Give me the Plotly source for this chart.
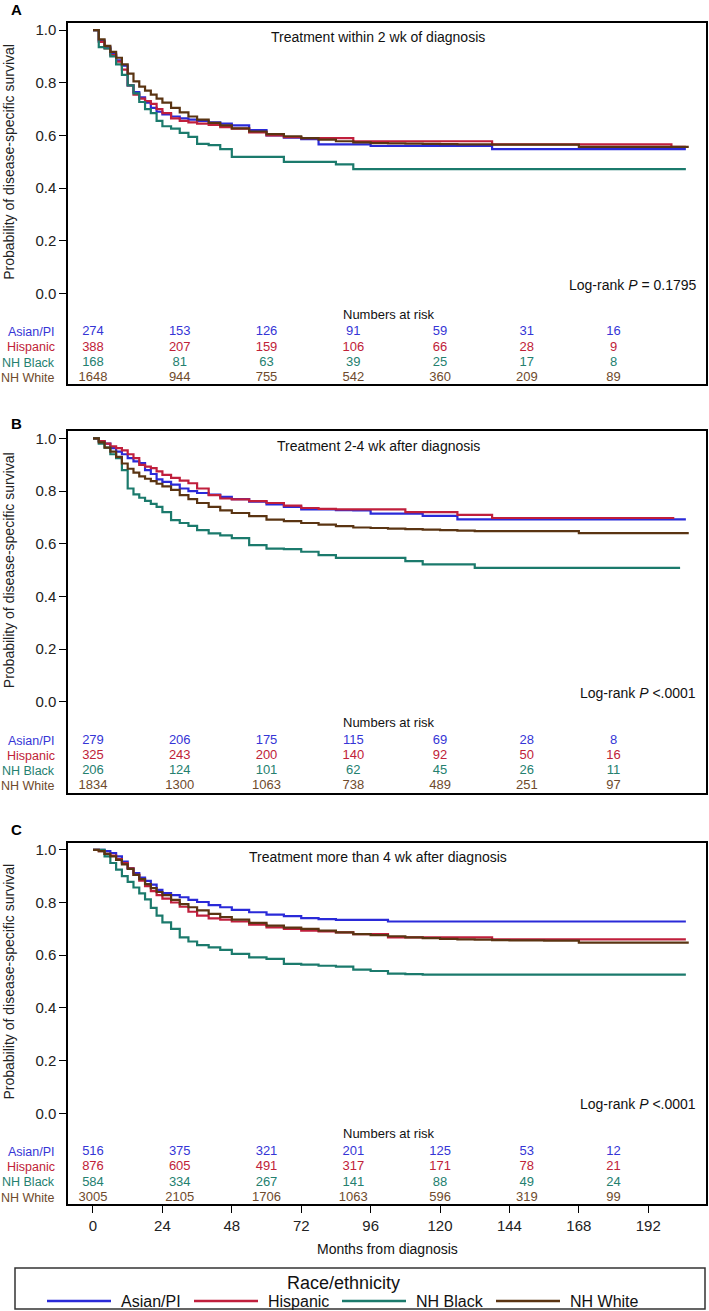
import plotly.graph_objects as go

W, H = 709, 1311
FONT = "Liberation Sans, Arial, sans-serif"

GROUPS = ["Asian/PI", "Hispanic", "NH Black", "NH White"]
LINE_COLORS = ["#2a2ad8", "#c01f3c", "#1b7a6c", "#5a3412"]
TEXT_COLORS = ["#3535d6", "#c02238", "#24806f", "#6e4a2c"]

PANEL_LETTERS = ["A", "B", "C"]
PANEL_TITLES = ["Treatment within 2 wk of diagnosis",
                "Treatment 2-4 wk after diagnosis",
                "Treatment more than 4 wk after diagnosis"]
LOGRANK = ["Log-rank <i>P</i> = 0.1795",
           "Log-rank <i>P</i> &lt;.0001",
           "Log-rank <i>P</i> &lt;.0001"]

MONTHS = [0, 2, 4, 6, 8, 10, 12, 14, 16, 18, 20, 22, 24, 27, 30, 33, 36, 40, 44, 48,
          54, 60, 66, 72, 78, 84, 90, 96, 102, 108, 114, 120, 126, 132, 138, 144,
          156, 168, 180, 192, 200]

# Panel A survival
A_ASIAN = [1.0, 0.96, 0.935, 0.91, 0.885, 0.865, 0.79, 0.765, 0.745, 0.725, 0.705, 0.69, 0.68,
           0.672, 0.665, 0.66, 0.655, 0.65, 0.645, 0.638,
           0.62, 0.60, 0.592, 0.586, 0.566, 0.566, 0.566, 0.56,
           0.56, 0.56, 0.56, 0.56, 0.56, 0.56, 0.548, 0.548,
           0.548, 0.548, 0.548, 0.548, 0.548]
A_HISP = [1.0, 0.955, 0.93, 0.905, 0.88, 0.85, 0.79, 0.755, 0.74, 0.73, 0.72, 0.70, 0.685,
          0.665, 0.655, 0.65, 0.645, 0.64, 0.632, 0.626,
          0.612, 0.60, 0.594, 0.59, 0.59, 0.59, 0.578, 0.578,
          0.578, 0.578, 0.578, 0.578, 0.578, 0.578, 0.566, 0.566,
          0.566, 0.566, 0.566, 0.566, 0.557]
A_BLACK = [1.0, 0.935, 0.93, 0.90, 0.87, 0.83, 0.79, 0.76, 0.727, 0.70, 0.685, 0.655, 0.635,
           0.626, 0.61, 0.595, 0.568, 0.563, 0.548, 0.519,
           0.519, 0.519, 0.50, 0.50, 0.50, 0.49, 0.472, 0.472,
           0.472, 0.472, 0.472, 0.472, 0.472, 0.472, 0.472, 0.472,
           0.472, 0.472, 0.472, 0.472, 0.472]
A_WHITE = [1.0, 0.965, 0.94, 0.917, 0.895, 0.87, 0.835, 0.805, 0.785, 0.77, 0.755, 0.74, 0.725,
           0.705, 0.688, 0.672, 0.66, 0.648, 0.638, 0.627,
           0.615, 0.605, 0.597, 0.59, 0.584, 0.578, 0.574, 0.571,
           0.57, 0.569, 0.568, 0.567, 0.566, 0.566, 0.565, 0.565,
           0.565, 0.557, 0.557, 0.557, 0.557]

# Panel B survival
B_ASIAN = [1.0, 0.99, 0.98, 0.963, 0.95, 0.94, 0.925, 0.913, 0.906, 0.88, 0.865, 0.845, 0.835,
           0.825, 0.81, 0.80, 0.793, 0.787, 0.778, 0.77,
           0.76, 0.75, 0.74, 0.731, 0.731, 0.728, 0.727, 0.715,
           0.715, 0.715, 0.706, 0.706, 0.693, 0.693, 0.693, 0.693,
           0.693, 0.693, 0.693, 0.693, 0.693]
B_HISP = [1.0, 0.99, 0.98, 0.97, 0.963, 0.955, 0.94, 0.925, 0.90, 0.893, 0.887, 0.875, 0.862,
          0.85, 0.84, 0.83, 0.81, 0.785, 0.772, 0.769,
          0.762, 0.755, 0.745, 0.736, 0.733, 0.731, 0.731, 0.731,
          0.731, 0.72, 0.72, 0.72, 0.71, 0.71, 0.698, 0.698,
          0.698, 0.698, 0.698, 0.698, 0.698]
B_BLACK = [1.0, 0.98, 0.965, 0.94, 0.925, 0.88, 0.81, 0.788, 0.775, 0.763, 0.752, 0.74, 0.72,
           0.69, 0.679, 0.668, 0.652, 0.64, 0.632, 0.622,
           0.595, 0.582, 0.58, 0.57, 0.557, 0.547, 0.547, 0.547,
           0.547, 0.534, 0.522, 0.522, 0.522, 0.509, 0.509, 0.509,
           0.509, 0.509, 0.509, 0.509, 0.509]
B_WHITE = [1.0, 0.985, 0.965, 0.95, 0.93, 0.905, 0.885, 0.87, 0.856, 0.847, 0.838, 0.828, 0.818,
           0.805, 0.785, 0.77, 0.755, 0.74, 0.727, 0.717,
           0.705, 0.692, 0.686, 0.679, 0.673, 0.667, 0.662, 0.66,
           0.658, 0.656, 0.654, 0.652, 0.65, 0.648, 0.648, 0.648,
           0.648, 0.641, 0.641, 0.641, 0.641]

# Panel C survival
C_ASIAN = [1.0, 1.0, 0.995, 0.988, 0.975, 0.955, 0.93, 0.912, 0.895, 0.882, 0.868, 0.848, 0.836,
           0.828, 0.82, 0.81, 0.802, 0.79, 0.782, 0.772,
           0.763, 0.754, 0.748, 0.741, 0.737, 0.734, 0.734, 0.734,
           0.728, 0.728, 0.728, 0.728, 0.728, 0.728, 0.728, 0.728,
           0.728, 0.728, 0.728, 0.728, 0.728]
C_HISP = [1.0, 0.995, 0.985, 0.978, 0.965, 0.95, 0.93, 0.905, 0.883, 0.862, 0.843, 0.828, 0.815,
          0.80, 0.784, 0.765, 0.75, 0.74, 0.735, 0.728,
          0.716, 0.706, 0.70, 0.693, 0.69, 0.687, 0.68, 0.68,
          0.668, 0.668, 0.668, 0.668, 0.668, 0.668, 0.66, 0.66,
          0.66, 0.66, 0.66, 0.66, 0.66]
C_BLACK = [1.0, 1.0, 0.975, 0.95, 0.925, 0.90, 0.878, 0.857, 0.835, 0.812, 0.78, 0.75, 0.725,
           0.70, 0.668, 0.652, 0.638, 0.63, 0.62, 0.605,
           0.592, 0.586, 0.567, 0.564, 0.56, 0.557, 0.545, 0.54,
           0.53, 0.528, 0.526, 0.526, 0.526, 0.526, 0.526, 0.526,
           0.526, 0.526, 0.526, 0.526, 0.526]
C_WHITE = [1.0, 0.995, 0.985, 0.975, 0.962, 0.945, 0.928, 0.905, 0.889, 0.87, 0.855, 0.84, 0.828,
           0.81, 0.794, 0.782, 0.77, 0.757, 0.745, 0.735,
           0.723, 0.712, 0.705, 0.70, 0.693, 0.687, 0.68, 0.676,
           0.672, 0.668, 0.665, 0.662, 0.66, 0.659, 0.657, 0.656,
           0.655, 0.648, 0.648, 0.648, 0.648]

# last follow-up month of each curve
END_A = [205, 205, 205, 206]
END_B = [205, 201, 203, 206]
END_C = [205, 205, 205, 206]

# Numbers at risk
RISK_MONTHS = [0, 30, 60, 90, 120, 150, 180]
RISK_A = [[274, 153, 126, 91, 59, 31, 16],
          [388, 207, 159, 106, 66, 28, 9],
          [168, 81, 63, 39, 25, 17, 8],
          [1648, 944, 755, 542, 360, 209, 89]]
RISK_B = [[279, 206, 175, 115, 69, 28, 8],
          [325, 243, 200, 140, 92, 50, 16],
          [206, 124, 101, 62, 45, 26, 11],
          [1834, 1300, 1063, 738, 489, 251, 97]]
RISK_C = [[516, 375, 321, 201, 125, 53, 12],
          [876, 605, 491, 317, 171, 78, 21],
          [584, 334, 267, 141, 88, 49, 24],
          [3005, 2105, 1706, 1063, 596, 319, 99]]

X_TICKS = [0, 24, 48, 72, 96, 120, 144, 168, 192]
Y_TICKS = [0.0, 0.2, 0.4, 0.6, 0.8, 1.0]

PANELS = [
    dict(surv=[A_ASIAN, A_HISP, A_BLACK, A_WHITE], end=END_A, risk=RISK_A),
    dict(surv=[B_ASIAN, B_HISP, B_BLACK, B_WHITE], end=END_B, risk=RISK_B),
    dict(surv=[C_ASIAN, C_HISP, C_BLACK, C_WHITE], end=END_C, risk=RISK_C),
]

# ---------------- layout geometry (pixels) ----------------
def py(p):
    return 1 - p / H

def px(p):
    return p / W

FRAME_TOP = [21, 430, 842]
FRAME_H = 362
X_DOMAIN = [px(68), px(706)]
X_RANGE = [-8.64, 211.96]
Y_RANGE = [-0.345, 1.027]
ROW_Y = [-0.147, -0.204, -0.262, -0.32]
HEAD_Y = -0.078
LETTER_Y = [8, 422, 829]

fig = go.Figure()
annotations = []
shapes = []
layout = {}

for i, panel in enumerate(PANELS):
    sfx = "" if i == 0 else str(i + 1)
    xa, ya = "x" + sfx, "y" + sfx
    for g in range(4):
        xs = MONTHS + [panel["end"][g]]
        ys = panel["surv"][g] + [panel["surv"][g][-1]]
        fig.add_trace(go.Scatter(
            x=xs, y=ys, mode="lines", name=GROUPS[g],
            line=dict(color=LINE_COLORS[g], width=2.2, shape="hv"),
            xaxis=xa, yaxis=ya, showlegend=False, hoverinfo="skip"))
    for g in range(4):
        fig.add_trace(go.Scatter(
            x=RISK_MONTHS, y=[ROW_Y[g]] * len(RISK_MONTHS), mode="text",
            text=[str(v) for v in panel["risk"][g]],
            textfont=dict(color=TEXT_COLORS[g], size=13, family=FONT),
            textposition="middle center",
            xaxis=xa, yaxis=ya, showlegend=False, hoverinfo="skip"))
        annotations.append(dict(
            text=GROUPS[g], xref="paper", x=px(57), xanchor="right",
            yref=ya, y=ROW_Y[g], yanchor="middle", showarrow=False,
            font=dict(color=TEXT_COLORS[g], size=12.5, family=FONT)))
    top = FRAME_TOP[i]
    dom = [py(top + FRAME_H), py(top)]
    last = (i == 2)
    layout["xaxis" + sfx] = dict(
        domain=X_DOMAIN, range=X_RANGE, anchor=ya,
        showline=True, mirror=True, linecolor="black", linewidth=1.5,
        showgrid=False, zeroline=False,
        ticks="outside" if last else "", ticklen=7, tickwidth=1.2, tickcolor="black",
        tickvals=X_TICKS, showticklabels=last,
        tickfont=dict(size=15, family=FONT, color="#222"))
    layout["yaxis" + sfx] = dict(
        domain=dom, range=Y_RANGE, anchor=xa,
        showline=True, mirror=True, linecolor="black", linewidth=1.5,
        showgrid=False, zeroline=False,
        ticks="outside", ticklen=7, tickwidth=1.2, tickcolor="black",
        tickvals=Y_TICKS, ticktext=["%.1f" % v for v in Y_TICKS],
        tickfont=dict(size=15, family=FONT, color="#222"))
    xd = xa + " domain"
    annotations += [
        dict(text=PANEL_TITLES[i], xref=xd, x=(378 - 68) / 638, xanchor="center",
             yref=ya, y=0.973, yanchor="middle", showarrow=False,
             font=dict(size=14, family=FONT, color="#111")),
        dict(text=LOGRANK[i], xref=xd, x=(698 - 68) / 638, xanchor="right",
             yref=ya, y=0.034, yanchor="middle", showarrow=False,
             font=dict(size=14, family=FONT, color="#111")),
        dict(text="Numbers at risk", xref=xd, x=(389 - 68) / 638, xanchor="center",
             yref=ya, y=HEAD_Y, yanchor="middle", showarrow=False,
             font=dict(size=13, family=FONT, color="#111")),
        dict(text="Probability of disease-specific survival", xref="paper", x=px(9),
             xanchor="center", yref=ya, y=0.5, yanchor="middle", textangle=-90,
             showarrow=False, font=dict(size=14, family=FONT, color="#222")),
        dict(text="<b>" + PANEL_LETTERS[i] + "</b>", xref="paper", x=px(16),
             xanchor="center", yref="paper", y=py(LETTER_Y[i]), yanchor="middle",
             showarrow=False, font=dict(size=15, family=FONT, color="black")),
    ]

# x-axis title
annotations.append(dict(text="Months from diagnosis", xref="paper", x=px(387),
                        xanchor="center", yref="paper", y=py(1249), yanchor="middle",
                        showarrow=False, font=dict(size=14, family=FONT, color="#111")))

# legend (drawn box)
shapes.append(dict(type="rect", xref="paper", yref="paper",
                   x0=px(15), x1=px(705), y0=py(1309), y1=py(1268),
                   line=dict(color="#333", width=1.5)))
annotations.append(dict(text="Race/ethnicity", xref="paper", x=px(343), xanchor="center",
                        yref="paper", y=py(1283), yanchor="middle", showarrow=False,
                        font=dict(size=18, family=FONT, color="#111")))
LEG_LINE_X = [47, 194, 342, 496]
for g in range(4):
    x0 = LEG_LINE_X[g]
    shapes.append(dict(type="line", xref="paper", yref="paper",
                       x0=px(x0), x1=px(x0 + 64), y0=py(1301), y1=py(1301),
                       line=dict(color=LINE_COLORS[g], width=2.5)))
    annotations.append(dict(text=GROUPS[g], xref="paper", x=px(x0 + 72), xanchor="left",
                            yref="paper", y=py(1301), yanchor="middle", showarrow=False,
                            font=dict(size=16, family=FONT, color="#111")))

fig.update_layout(
    width=W, height=H, autosize=False,
    margin=dict(l=0, r=0, t=0, b=0),
    paper_bgcolor="white", plot_bgcolor="white",
    font=dict(family=FONT, color="#111"),
    showlegend=False,
    annotations=annotations, shapes=shapes,
    **layout)

fig.write_html(
    "out.html",
    config={"displayModeBar": False},
    post_script="document.body.style.margin='0px';document.body.style.padding='0px';"
                "document.body.style.overflow='hidden';")
